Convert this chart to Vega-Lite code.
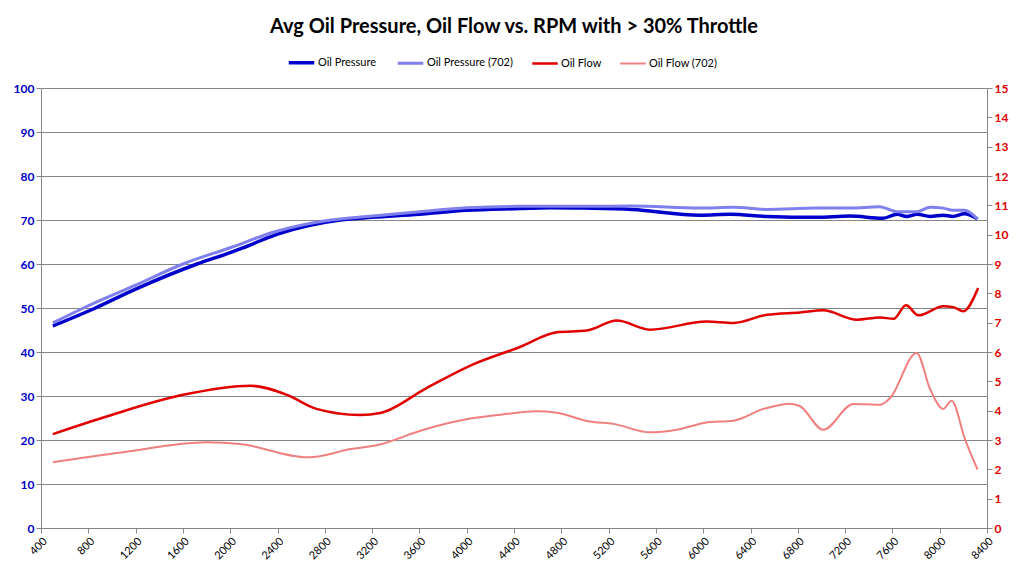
{
  "$schema": "https://vega.github.io/schema/vega-lite/v6.json",
  "width": 946,
  "height": 440,
  "autosize": "none",
  "padding": {"left": 41, "top": 88, "right": 38, "bottom": 49},
  "background": "white",
  "title": {
    "text": "Avg Oil Pressure, Oil Flow vs. RPM with > 30% Throttle",
    "font": "Lato",
    "fontSize": 20,
    "fontWeight": "bold",
    "color": "black",
    "anchor": "middle",
    "offset": 11
  },
  "config": {
    "view": {"stroke": null},
    "font": "Lato",
    "axis": {
      "domainColor": "#868686",
      "tickColor": "#868686",
      "gridColor": "#868686",
      "tickSize": 5,
      "labelFontSize": 12,
      "labelFontWeight": "bold",
      "title": null
    }
  },
  "data": {
    "values": [
      {"rpm": 500, "series": "Oil Pressure", "value": 45.9},
      {"rpm": 860, "series": "Oil Pressure", "value": 50.0},
      {"rpm": 1200, "series": "Oil Pressure", "value": 54.3},
      {"rpm": 1720, "series": "Oil Pressure", "value": 60.0},
      {"rpm": 2000, "series": "Oil Pressure", "value": 62.6},
      {"rpm": 2100, "series": "Oil Pressure", "value": 63.6},
      {"rpm": 2400, "series": "Oil Pressure", "value": 66.8},
      {"rpm": 2930, "series": "Oil Pressure", "value": 70.0},
      {"rpm": 3200, "series": "Oil Pressure", "value": 70.6},
      {"rpm": 3600, "series": "Oil Pressure", "value": 71.3},
      {"rpm": 4000, "series": "Oil Pressure", "value": 72.2},
      {"rpm": 4450, "series": "Oil Pressure", "value": 72.6},
      {"rpm": 4700, "series": "Oil Pressure", "value": 72.8},
      {"rpm": 5000, "series": "Oil Pressure", "value": 72.7},
      {"rpm": 5400, "series": "Oil Pressure", "value": 72.4},
      {"rpm": 5970, "series": "Oil Pressure", "value": 71.1},
      {"rpm": 6230, "series": "Oil Pressure", "value": 71.3},
      {"rpm": 6540, "series": "Oil Pressure", "value": 70.8},
      {"rpm": 6960, "series": "Oil Pressure", "value": 70.6},
      {"rpm": 7240, "series": "Oil Pressure", "value": 70.9},
      {"rpm": 7520, "series": "Oil Pressure", "value": 70.4},
      {"rpm": 7640, "series": "Oil Pressure", "value": 71.3},
      {"rpm": 7720, "series": "Oil Pressure", "value": 70.8},
      {"rpm": 7810, "series": "Oil Pressure", "value": 71.3},
      {"rpm": 7920, "series": "Oil Pressure", "value": 70.8},
      {"rpm": 8030, "series": "Oil Pressure", "value": 71.1},
      {"rpm": 8110, "series": "Oil Pressure", "value": 70.8},
      {"rpm": 8210, "series": "Oil Pressure", "value": 71.4},
      {"rpm": 8320, "series": "Oil Pressure", "value": 70.2},

      {"rpm": 500, "series": "Oil Pressure (702)", "value": 46.6},
      {"rpm": 760, "series": "Oil Pressure (702)", "value": 50.0},
      {"rpm": 1200, "series": "Oil Pressure (702)", "value": 55.2},
      {"rpm": 1600, "series": "Oil Pressure (702)", "value": 60.0},
      {"rpm": 2000, "series": "Oil Pressure (702)", "value": 63.7},
      {"rpm": 2400, "series": "Oil Pressure (702)", "value": 67.5},
      {"rpm": 2850, "series": "Oil Pressure (702)", "value": 70.0},
      {"rpm": 3200, "series": "Oil Pressure (702)", "value": 70.9},
      {"rpm": 3600, "series": "Oil Pressure (702)", "value": 71.9},
      {"rpm": 4000, "series": "Oil Pressure (702)", "value": 72.8},
      {"rpm": 4450, "series": "Oil Pressure (702)", "value": 73.1},
      {"rpm": 5000, "series": "Oil Pressure (702)", "value": 73.1},
      {"rpm": 5400, "series": "Oil Pressure (702)", "value": 73.2},
      {"rpm": 5970, "series": "Oil Pressure (702)", "value": 72.7},
      {"rpm": 6250, "series": "Oil Pressure (702)", "value": 72.9},
      {"rpm": 6540, "series": "Oil Pressure (702)", "value": 72.4},
      {"rpm": 6960, "series": "Oil Pressure (702)", "value": 72.7},
      {"rpm": 7240, "series": "Oil Pressure (702)", "value": 72.7},
      {"rpm": 7490, "series": "Oil Pressure (702)", "value": 73.0},
      {"rpm": 7640, "series": "Oil Pressure (702)", "value": 71.9},
      {"rpm": 7810, "series": "Oil Pressure (702)", "value": 71.9},
      {"rpm": 7920, "series": "Oil Pressure (702)", "value": 72.9},
      {"rpm": 8030, "series": "Oil Pressure (702)", "value": 72.7},
      {"rpm": 8110, "series": "Oil Pressure (702)", "value": 72.2},
      {"rpm": 8210, "series": "Oil Pressure (702)", "value": 72.2},
      {"rpm": 8320, "series": "Oil Pressure (702)", "value": 70.2},

      {"rpm": 500, "series": "Oil Flow", "value": 3.2},
      {"rpm": 955, "series": "Oil Flow", "value": 3.8},
      {"rpm": 1600, "series": "Oil Flow", "value": 4.54},
      {"rpm": 2170, "series": "Oil Flow", "value": 4.85},
      {"rpm": 2480, "series": "Oil Flow", "value": 4.54},
      {"rpm": 2730, "series": "Oil Flow", "value": 4.06},
      {"rpm": 3100, "series": "Oil Flow", "value": 3.85},
      {"rpm": 3270, "series": "Oil Flow", "value": 3.92},
      {"rpm": 3660, "series": "Oil Flow", "value": 4.77},
      {"rpm": 4050, "series": "Oil Flow", "value": 5.57},
      {"rpm": 4450, "series": "Oil Flow", "value": 6.17},
      {"rpm": 4760, "series": "Oil Flow", "value": 6.67},
      {"rpm": 5015, "series": "Oil Flow", "value": 6.73},
      {"rpm": 5270, "series": "Oil Flow", "value": 7.07},
      {"rpm": 5550, "series": "Oil Flow", "value": 6.76},
      {"rpm": 6030, "series": "Oil Flow", "value": 7.04},
      {"rpm": 6255, "series": "Oil Flow", "value": 6.99},
      {"rpm": 6540, "series": "Oil Flow", "value": 7.27},
      {"rpm": 6820, "series": "Oil Flow", "value": 7.35},
      {"rpm": 7015, "series": "Oil Flow", "value": 7.42},
      {"rpm": 7300, "series": "Oil Flow", "value": 7.1},
      {"rpm": 7495, "series": "Oil Flow", "value": 7.18},
      {"rpm": 7610, "series": "Oil Flow", "value": 7.13},
      {"rpm": 7715, "series": "Oil Flow", "value": 7.59},
      {"rpm": 7820, "series": "Oil Flow", "value": 7.25},
      {"rpm": 8030, "series": "Oil Flow", "value": 7.56},
      {"rpm": 8115, "series": "Oil Flow", "value": 7.53},
      {"rpm": 8200, "series": "Oil Flow", "value": 7.39},
      {"rpm": 8325, "series": "Oil Flow", "value": 8.18},

      {"rpm": 500, "series": "Oil Flow (702)", "value": 2.24},
      {"rpm": 1095, "series": "Oil Flow (702)", "value": 2.58},
      {"rpm": 1800, "series": "Oil Flow (702)", "value": 2.92},
      {"rpm": 2085, "series": "Oil Flow (702)", "value": 2.86},
      {"rpm": 2650, "series": "Oil Flow (702)", "value": 2.41},
      {"rpm": 2760, "series": "Oil Flow (702)", "value": 2.45},
      {"rpm": 3015, "series": "Oil Flow (702)", "value": 2.69},
      {"rpm": 3240, "series": "Oil Flow (702)", "value": 2.82},
      {"rpm": 3635, "series": "Oil Flow (702)", "value": 3.35},
      {"rpm": 4030, "series": "Oil Flow (702)", "value": 3.73},
      {"rpm": 4300, "series": "Oil Flow (702)", "value": 3.87},
      {"rpm": 4590, "series": "Oil Flow (702)", "value": 3.98},
      {"rpm": 4760, "series": "Oil Flow (702)", "value": 3.93},
      {"rpm": 5040, "series": "Oil Flow (702)", "value": 3.63},
      {"rpm": 5240, "series": "Oil Flow (702)", "value": 3.55},
      {"rpm": 5550, "series": "Oil Flow (702)", "value": 3.26},
      {"rpm": 5775, "series": "Oil Flow (702)", "value": 3.35},
      {"rpm": 6030, "series": "Oil Flow (702)", "value": 3.6},
      {"rpm": 6255, "series": "Oil Flow (702)", "value": 3.66},
      {"rpm": 6510, "series": "Oil Flow (702)", "value": 4.06},
      {"rpm": 6735, "series": "Oil Flow (702)", "value": 4.24},
      {"rpm": 6820, "series": "Oil Flow (702)", "value": 4.15},
      {"rpm": 7015, "series": "Oil Flow (702)", "value": 3.35},
      {"rpm": 7270, "series": "Oil Flow (702)", "value": 4.23},
      {"rpm": 7495, "series": "Oil Flow (702)", "value": 4.2},
      {"rpm": 7580, "series": "Oil Flow (702)", "value": 4.43},
      {"rpm": 7805, "series": "Oil Flow (702)", "value": 5.97},
      {"rpm": 7920, "series": "Oil Flow (702)", "value": 4.72},
      {"rpm": 8030, "series": "Oil Flow (702)", "value": 4.06},
      {"rpm": 8100, "series": "Oil Flow (702)", "value": 4.34},
      {"rpm": 8215, "series": "Oil Flow (702)", "value": 3.01},
      {"rpm": 8320, "series": "Oil Flow (702)", "value": 1.99}
    ]
  },
  "encoding": {
    "x": {
      "field": "rpm",
      "type": "quantitative",
      "scale": {"domain": [400, 8400], "nice": false},
      "axis": {
        "values": [400, 800, 1200, 1600, 2000, 2400, 2800, 3200, 3600, 4000, 4400, 4800, 5200, 5600, 6000, 6400, 6800, 7200, 7600, 8000, 8400],
        "format": "d",
        "labelAngle": -45,
        "labelFontWeight": "normal",
        "labelFontSize": 11,
        "labelColor": "black",
        "grid": false
      }
    },
    "color": {
      "field": "series",
      "type": "nominal",
      "scale": {
        "domain": ["Oil Pressure", "Oil Pressure (702)", "Oil Flow", "Oil Flow (702)"],
        "range": ["#0000CC", "#7F7FEE", "#E00000", "#F08080"]
      },
      "legend": {
        "title": null,
        "orient": "none",
        "direction": "horizontal",
        "legendX": 246,
        "legendY": -40,
        "symbolType": "stroke",
        "symbolSize": 650,
        "labelFontSize": 11,
        "labelOffset": 2,
        "columnPadding": 14
      }
    },
    "strokeWidth": {
      "field": "series",
      "type": "nominal",
      "scale": {
        "domain": ["Oil Pressure", "Oil Pressure (702)", "Oil Flow", "Oil Flow (702)"],
        "range": [3.5, 2, 3.5, 2]
      },
      "legend": {
        "title": null,
        "orient": "none",
        "direction": "horizontal",
        "legendX": 246,
        "legendY": -40,
        "symbolType": "stroke",
        "symbolSize": 650,
        "labelFontSize": 11,
        "labelOffset": 2,
        "columnPadding": 14
      }
    }
  },
  "layer": [
    {
      "transform": [{"filter": "indexof(datum.series, 'Pressure') >= 0"}],
      "mark": {"type": "line", "interpolate": "monotone"},
      "encoding": {
        "y": {
          "field": "value",
          "type": "quantitative",
          "scale": {"domain": [0, 100], "nice": false},
          "axis": {
            "orient": "left",
            "values": [0, 10, 20, 30, 40, 50, 60, 70, 80, 90, 100],
            "labelColor": "#0000CC",
            "grid": true
          }
        }
      }
    },
    {
      "transform": [{"filter": "indexof(datum.series, 'Flow') >= 0"}],
      "mark": {"type": "line", "interpolate": "monotone"},
      "encoding": {
        "y": {
          "field": "value",
          "type": "quantitative",
          "scale": {"domain": [0, 15], "nice": false},
          "axis": {
            "orient": "right",
            "values": [0, 1, 2, 3, 4, 5, 6, 7, 8, 9, 10, 11, 12, 13, 14, 15],
            "labelColor": "#E00000",
            "grid": false
          }
        }
      }
    }
  ],
  "resolve": {"scale": {"y": "independent"}}
}
